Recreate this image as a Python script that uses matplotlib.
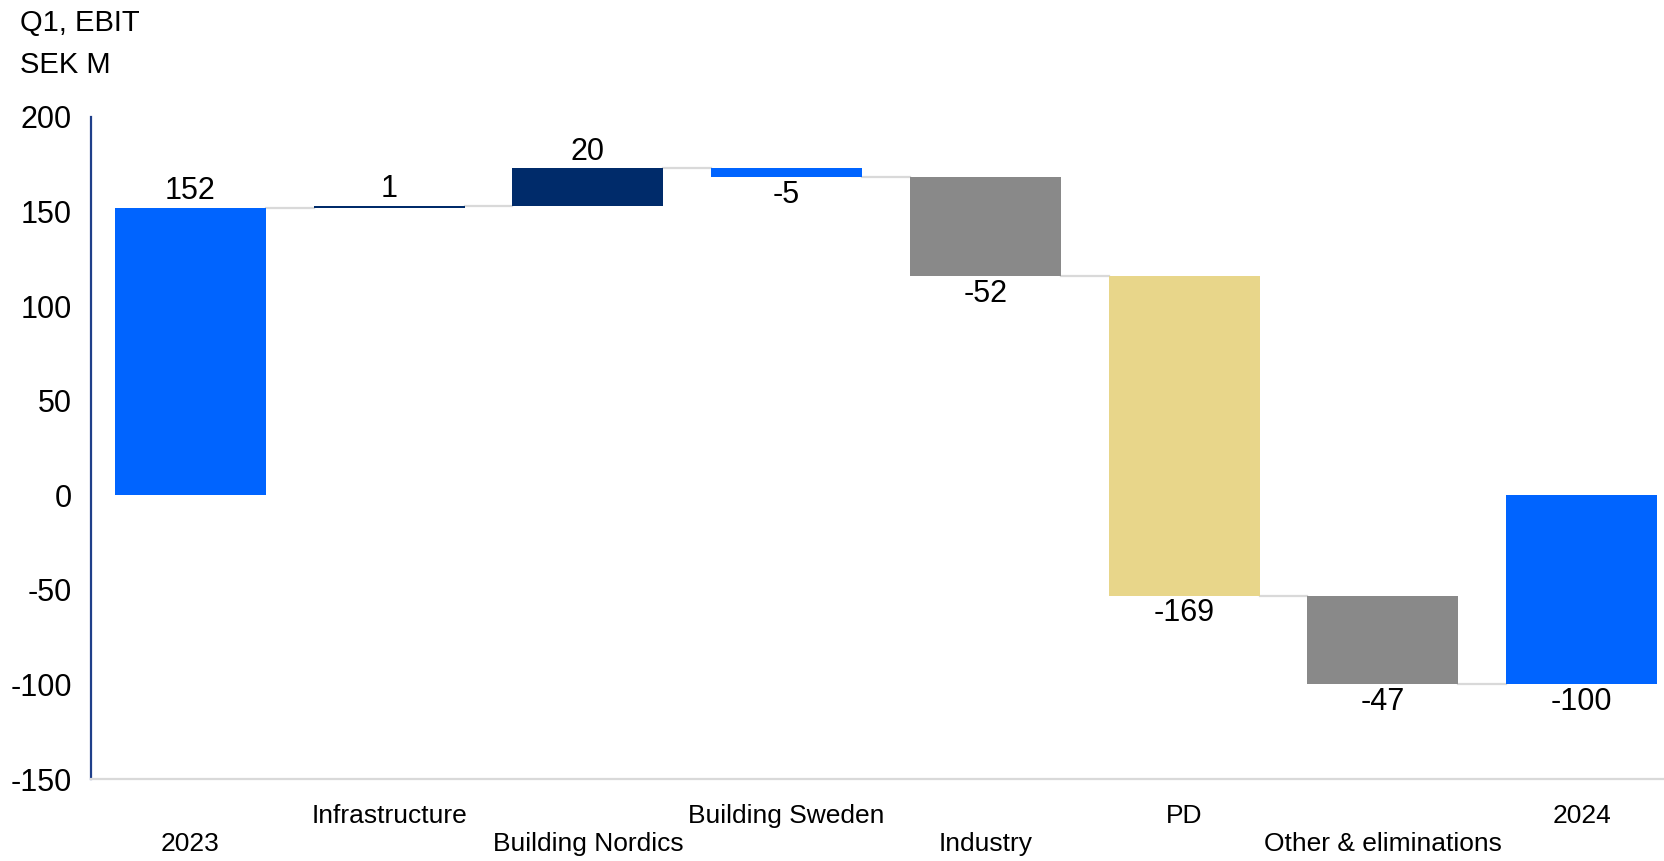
import matplotlib.pyplot as plt
import numpy as np

plt.rcParams['font.family'] = ['Liberation Sans', 'DejaVu Sans']
plt.rcParams['axes.unicode_minus'] = False

categories = ['2023', 'Infrastructure', 'Building Nordics', 'Building Sweden',
              'Industry', 'PD', 'Other & eliminations', '2024']
changes = [152, 1, 20, -5, -52, -169, -47, -100]
is_total = [True, False, False, False, False, False, False, True]
colors = ['#0064FF', '#002B6A', '#002B6A', '#0064FF',
          '#898989', '#E8D68A', '#898989', '#0064FF']

# work out bar bottoms and tops from the running total
bottoms, tops = [], []
level = 0
for v, tot in zip(changes, is_total):
    if tot:
        b, t = 0, v
        level = v
    else:
        b, t = level, level + v
        level = t
    bottoms.append(b)
    tops.append(t)

x = np.arange(len(categories))
width = 0.76

fig = plt.figure(figsize=(16.65, 8.61), dpi=100)
ax = fig.add_axes([0.0547, 0.0952, 0.9453, 0.769])

heights = [t - b for b, t in zip(bottoms, tops)]
ax.bar(x, heights, bottom=bottoms, width=width, color=colors, zorder=2)

# connector lines between neighbouring bars
for i in range(len(x) - 1):
    ax.plot([x[i] + width / 2, x[i + 1] - width / 2], [tops[i], tops[i]],
            color='#D9D9D9', lw=1.6, zorder=1)

# value labels: above for rises, below for falls
for i, v in enumerate(changes):
    if v >= 0:
        ax.annotate(str(v), (x[i], max(bottoms[i], tops[i])), xytext=(0, 1),
                    textcoords='offset points', ha='center', va='bottom', fontsize=22)
    else:
        ax.annotate(str(v), (x[i], min(bottoms[i], tops[i])), xytext=(0, -2),
                    textcoords='offset points', ha='center', va='top', fontsize=22)

ax.set_ylim(-150, 200)
ax.set_xlim(-0.5, 7.42)
ax.set_yticks([-150, -100, -50, 0, 50, 100, 150, 200])
ax.tick_params(axis='y', length=0, pad=14, labelsize=22)

# stagger the category names over two rows
ticklabels = [c if i % 2 else '\n' + c for i, c in enumerate(categories)]
ax.set_xticks(x)
ax.set_xticklabels(ticklabels, fontsize=19)
ax.tick_params(axis='x', length=0, pad=18)

for s in ['top', 'right']:
    ax.spines[s].set_visible(False)
ax.spines['left'].set_color('#1F3F8A')
ax.spines['left'].set_linewidth(1.6)
ax.spines['bottom'].set_color('#D9D9D9')
ax.spines['bottom'].set_linewidth(1.6)

fig.text(0.012, 0.99, 'Q1, EBIT\nSEK M', ha='left', va='top', fontsize=21,
         linespacing=1.65)

fig.savefig('out.png', dpi=100)
